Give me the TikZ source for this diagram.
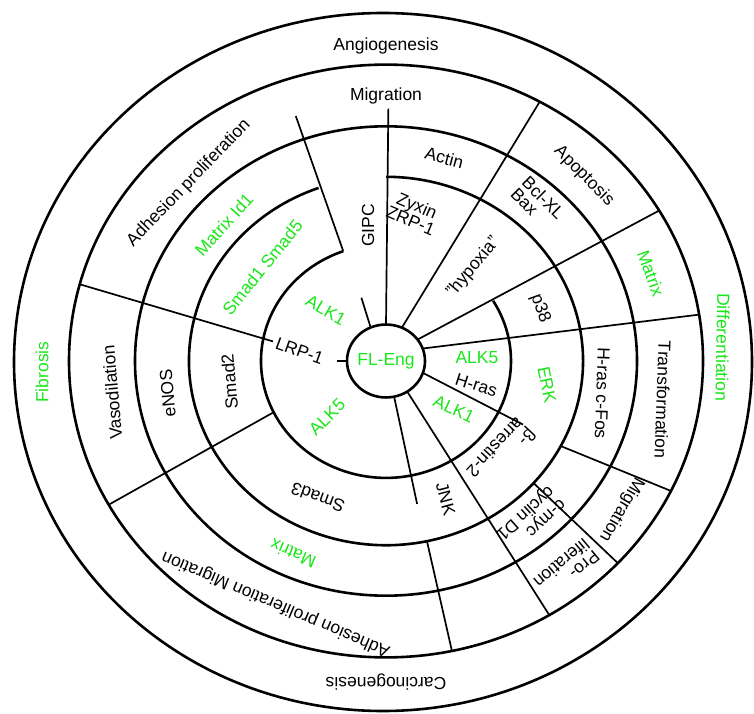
\documentclass[tikz,border=0pt]{standalone}
\usepackage{fontspec}
\setmainfont{Liberation Sans}
\usetikzlibrary{positioning}
\definecolor{leafgreen}{RGB}{25,230,25}

\begin{document}
\begin{tikzpicture}[x=1pt,y=1pt]
	\tikzstyle{ring} = [line width=2.6pt]
	\tikzstyle{spoke} = [line width=1.7pt]
	\tikzstyle{lbl} = [font=\fontsize{17.5}{16}\selectfont,inner sep=0pt,align=center]
	\tikzstyle{grn} = [lbl,text=leafgreen]

	\useasboundingbox (0,0) rectangle (754,713);
	\draw[ring] (383,351) ellipse [x radius=369pt, y radius=349pt];

	\begin{scope}[shift={(386,352)},yscale=0.935]
		\draw[ring] (0,0) circle [radius=39pt];
		\draw[ring] (110:125) arc [start angle=110, end angle=391, radius=125pt];
		\draw[ring] (110:197) arc [start angle=110, end angle=450, radius=197pt];
		\draw[ring] (0,0) circle [radius=251pt];
		\draw[ring] (0,0) circle [radius=317pt];

		\begin{scope}[spoke]
			\draw (110:125) -- (109:277);
			\draw (113:40) -- (110:72);
			\draw (90:39) -- (89.5:270);
			\draw (66:39) -- (61:317);
			\draw (36:39) -- (30.5:317);
			\draw (20:39) -- (9:317);
			\draw (-19:39) -- (-26.4:153);
			\draw (-57:39) -- (-59:317);
			\draw (-78:39) -- (-78.5:156);
			\draw (-78:197) -- (-78:317);
			\draw (-41.5:197) -- (-43:317);
			\draw (-27.5:197) -- (-26:317);
			\draw (169.5:115) -- (165:317);
			\draw (180:39) -- (180:49);
			\draw (206:125) -- (209:317);
		\end{scope}

		\node[grn] (fleng) at (0,0) {FL-Eng};
		\node[lbl] (angio) at (90:337) {Angiogenesis};
		\node[lbl] (migtop) at (90:283) {Migration};
		\node[lbl,rotate=46] (adhprol) at (136:274) {Adhesion proliferation};
		\node[grn,rotate=48] (matid) at (138:218) {Matrix Id1};
		\node[grn,rotate=51] (smadof) at (141:159) {Smad1 Smad5};
		\node[grn,rotate=-30] (alkul) at (138:81) {ALK1};
		\node[lbl,rotate=90] (gipc) at (97:146) {GIPC};
		\node[lbl,rotate=-23] (zyxin) at (80:161) {Zyxin\\ZRP-1};
		\node[lbl,rotate=-15] (actin) at (75:225) {Actin};
		\node[lbl,rotate=50] (hypox) at (49:133) {"hypoxia"};
		\node[lbl,rotate=-45,align=left] (bclxl) at (48:227) {Bcl-XL\\Bax};
		\node[lbl,rotate=-45] (apopt) at (45:280) {Apoptosis};
		\node[grn,rotate=-70] (matr) at (19.5:281) {Matrix};
		\node[lbl,rotate=-70] (pte) at (20:164) {p38};
		\node[grn] (alkfr) at (2:91) {ALK5};
		\node[lbl,rotate=-18] (hras) at (-16:94) {H-ras};
		\node[grn,rotate=-25] (alkor) at (-37:85) {ALK1};
		\node[grn,rotate=-78] (erk) at (-9:163) {ERK};
		\node[lbl,rotate=-92] (hrascfos) at (-9:219) {H-ras c-Fos};
		\node[lbl,rotate=-92] (transf) at (-8.5:280) {Transformation};
		\node[grn,rotate=-91] (diff) at (2.5:337) {Differentiation};
		\node[lbl,rotate=-133,align=left] (arrest) at (-40.5:152) {β-\\arrestin-2};
		\node[lbl,rotate=-75] (jnk) at (-68:159) {JNK};
		\node[lbl,rotate=-138,align=left] (cmyc) at (-49.5:221) {c-myc\\cyclin D1};
		\node[lbl,rotate=-140,align=left] (prolif) at (-51:287) {Pro-\\liferation};
		\node[lbl,rotate=-120] (migbox) at (-34:284) {Migration};
		\node[lbl,rotate=160] (smadth) at (245:161) {Smad3};
		\node[grn,rotate=157] (matb) at (245.7:226) {Matrix};
		\node[lbl,rotate=157] (adhmig) at (247:282) {Adhesion proliferation Migration};
		\node[lbl,rotate=180] (carcino) at (270:343) {Carcinogenesis};
		\node[lbl,rotate=95] (smadtw) at (188:158) {Smad2};
		\node[lbl,rotate=95] (enos) at (189:221) {eNOS};
		\node[lbl,rotate=95] (vaso) at (187:276) {Vasodilation};
		\node[grn,rotate=90] (fibro) at (182:344) {Fibrosis};
		\node[lbl,rotate=-20] (lrp) at (173:87) {LRP-1};
		\node[grn,rotate=45] (alkfl) at (225.5:84) {ALK5};
	\end{scope}
\end{tikzpicture}
\end{document}
